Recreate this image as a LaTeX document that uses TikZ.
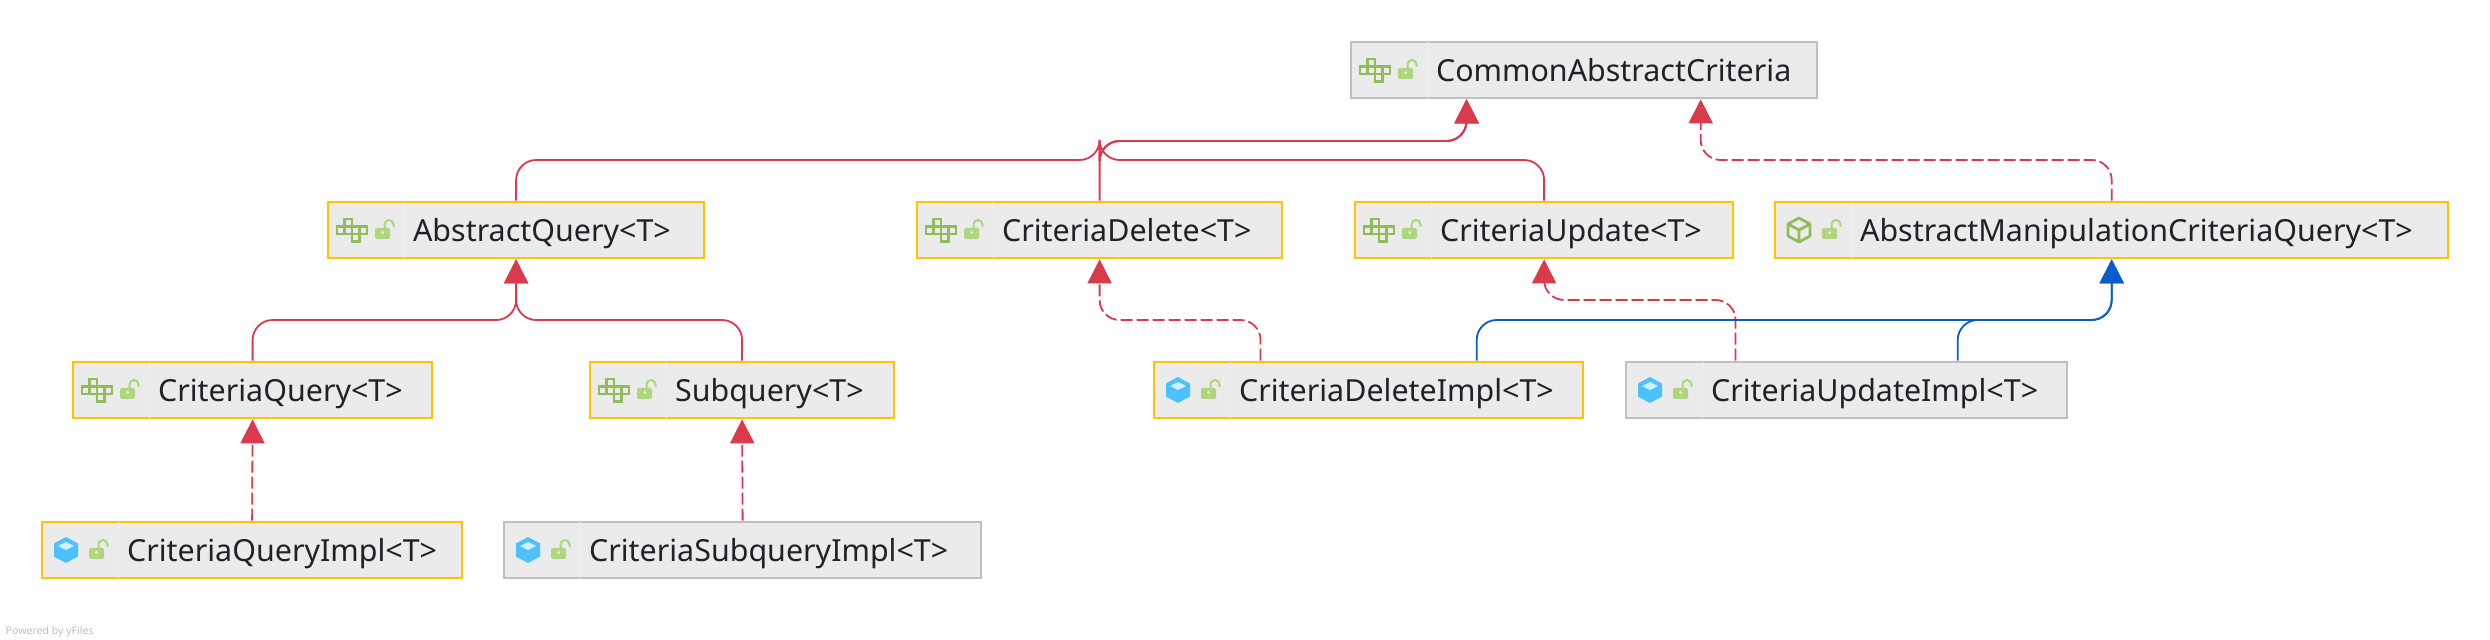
\documentclass[tikz,border=0pt]{standalone}
\usepackage{fontspec}
\setmainfont{Noto Sans}
\usetikzlibrary{arrows.meta, calc}
\definecolor{edgered}{RGB}{217,59,77}
\definecolor{edgeblue}{RGB}{10,92,200}
\definecolor{boxyellow}{RGB}{255,196,0}
\definecolor{boxgray}{RGB}{191,191,191}
\definecolor{boxfill}{RGB}{235,235,235}
\definecolor{textdark}{RGB}{31,35,40}
\definecolor{icongreen}{RGB}{146,188,92}
\definecolor{lockgreen}{RGB}{174,214,124}
\definecolor{cubeblue}{RGB}{77,193,255}
\tikzset{
    classbox/.style={anchor=west, fill=boxfill, line width=0.02cm, text=textdark,
        font=\fontsize{8.65pt}{10pt}\selectfont, text width=#1, align=left, inner xsep=0pt, inner ysep=0.1cm,
        text height=0.3cm, text depth=0.066cm, execute at begin node={\hspace*{0.85cm}}},
    yellowbox/.style={classbox=#1, draw=boxyellow},
    graybox/.style={classbox=#1, draw=boxgray},
    edgebase/.style={line width=0.018cm, rounded corners=0.2cm, -{Triangle[length=0.24cm, width=0.24cm]}},
    extends/.style={edgebase, draw=edgered},
    realizes/.style={edgebase, draw=edgered, dash pattern=on 0.12cm off 0.04cm},
    extendsblue/.style={edgebase, draw=edgeblue},
    pics/ifaceicon/.style={code={
        \draw[icongreen, line width=0.022cm] (17.5,-11) rectangle (25,-3.5) (10,-3.5) rectangle (17.5,4) (17.5,-3.5) rectangle (25,4)
            (25,-3.5) rectangle (32.5,4) (32.5,-3.5) rectangle (40,4) (25,4) rectangle (32.5,11.5);
    }},
    pics/cubeicon/.style={code={
        \draw[icongreen, line width=0.028cm, line join=round] (25,-12) -- (36,-6) -- (36,6) -- (25,12) -- (14,6) -- (14,-6) -- cycle
            (14,-6) -- (25,0) -- (36,-6) (25,0) -- (25,12);
    }},
    pics/implicon/.style={code={
        \fill[cubeblue] (25,-13) -- (37,-6.5) -- (37,6.5) -- (25,13) -- (13,6.5) -- (13,-6.5) -- cycle;
        \fill[cubeblue!25!white] (25,-8) -- (33,-4) -- (25,0) -- (17,-4) -- cycle;
    }},
    pics/lockicon/.style={code={
        \draw[boxfill!80!white, line width=0.01cm] (77,-28) -- (77,28);
        \fill[lockgreen, rounded corners=0.02cm] (48,-2) rectangle (63,9);
        \draw[lockgreen, line width=0.02cm] (57.5,-2) -- (57.5,-5.5) arc (180:360:4.5 and 4.5) -- (66.5,-3);
        \fill[boxfill] (55.7,2.5) circle (1.7);
    }}
}
\begin{document}
\begin{tikzpicture}[x=0.01cm, y=-0.01cm]
    \useasboundingbox (0,0) rectangle (2490,640);
    \coordinate (railtop) at (0,141);
    \coordinate (railmid) at (0,160);
    \coordinate (railhigh) at (0,300);
    \coordinate (raillow) at (0,320);

    \node[graybox=4.66cm] (common) at (1350,70) {CommonAbstractCriteria};
    \pic at (common.west) {ifaceicon};
    \pic at (common.west) {lockicon};
    \node[yellowbox=3.76cm] (aq) at (327,230) {AbstractQuery<T>};
    \pic at (aq.west) {ifaceicon};
    \pic at (aq.west) {lockicon};
    \node[yellowbox=3.65cm] (cd) at (916,230) {CriteriaDelete<T>};
    \pic at (cd.west) {ifaceicon};
    \pic at (cd.west) {lockicon};
    \node[yellowbox=3.78cm] (cu) at (1354,230) {CriteriaUpdate<T>};
    \pic at (cu.west) {ifaceicon};
    \pic at (cu.west) {lockicon};
    \node[yellowbox=6.73cm] (amcq) at (1774,230) {AbstractManipulationCriteriaQuery<T>};
    \pic at (amcq.west) {cubeicon};
    \pic at (amcq.west) {lockicon};
    \node[yellowbox=3.59cm] (cq) at (72,390) {CriteriaQuery<T>};
    \pic at (cq.west) {ifaceicon};
    \pic at (cq.west) {lockicon};
    \node[yellowbox=3.04cm] (sq) at (589,390) {Subquery<T>};
    \pic at (sq.west) {ifaceicon};
    \pic at (sq.west) {lockicon};
    \node[yellowbox=4.29cm] (cdi) at (1153,390) {CriteriaDeleteImpl<T>};
    \pic at (cdi.west) {implicon};
    \pic at (cdi.west) {lockicon};
    \node[graybox=4.41cm] (cui) at (1625,390) {CriteriaUpdateImpl<T>};
    \pic at (cui.west) {implicon};
    \pic at (cui.west) {lockicon};
    \node[yellowbox=4.20cm] (cqi) at (41,550) {CriteriaQueryImpl<T>};
    \pic at (cqi.west) {implicon};
    \pic at (cqi.west) {lockicon};
    \node[graybox=4.77cm] (csi) at (503,550) {CriteriaSubqueryImpl<T>};
    \pic at (csi.west) {implicon};
    \pic at (csi.west) {lockicon};
    \node[anchor=west, text=black!25, inner sep=0pt, font=\fontsize{3pt}{4pt}\selectfont] (yfiles) at (5,632) {Powered by yFiles};

    \coordinate (commonin) at ([xshift=-1.175cm]common.south);
    \coordinate (commonout) at ([xshift=1.165cm]common.south);
    \draw[extends] (aq.north) |- (cd.north |- railmid) |- (commonin |- railtop) -- (commonin);
    \draw[extends] (cu.north) |- (cd.north |- railmid) |- (commonin |- railtop) -- (commonin);
    \draw[extends] (cd.north) |- (commonin |- railtop) -- (commonin);
    \draw[realizes] (amcq.north) |- (commonout |- railmid) -- (commonout);
    \draw[extends] (cq.north) |- (aq.south |- raillow) -- (aq.south);
    \draw[extends] (sq.north) |- (aq.south |- raillow) -- (aq.south);
    \draw[realizes] (cqi.north) -- (cq.south);
    \draw[realizes] (csi.north) -- (sq.south);
    \draw[realizes] ([xshift=-1.08cm]cdi.north) |- (cd.south |- raillow) -- (cd.south);
    \draw[realizes] ([xshift=-1.11cm]cui.north) |- (cu.south |- railhigh) -- (cu.south);
    \draw[extendsblue] ([xshift=1.08cm]cdi.north) |- (amcq.south |- raillow) -- (amcq.south);
    \draw[extendsblue] ([xshift=1.11cm]cui.north) |- (amcq.south |- raillow) -- (amcq.south);
\end{tikzpicture}
\end{document}
